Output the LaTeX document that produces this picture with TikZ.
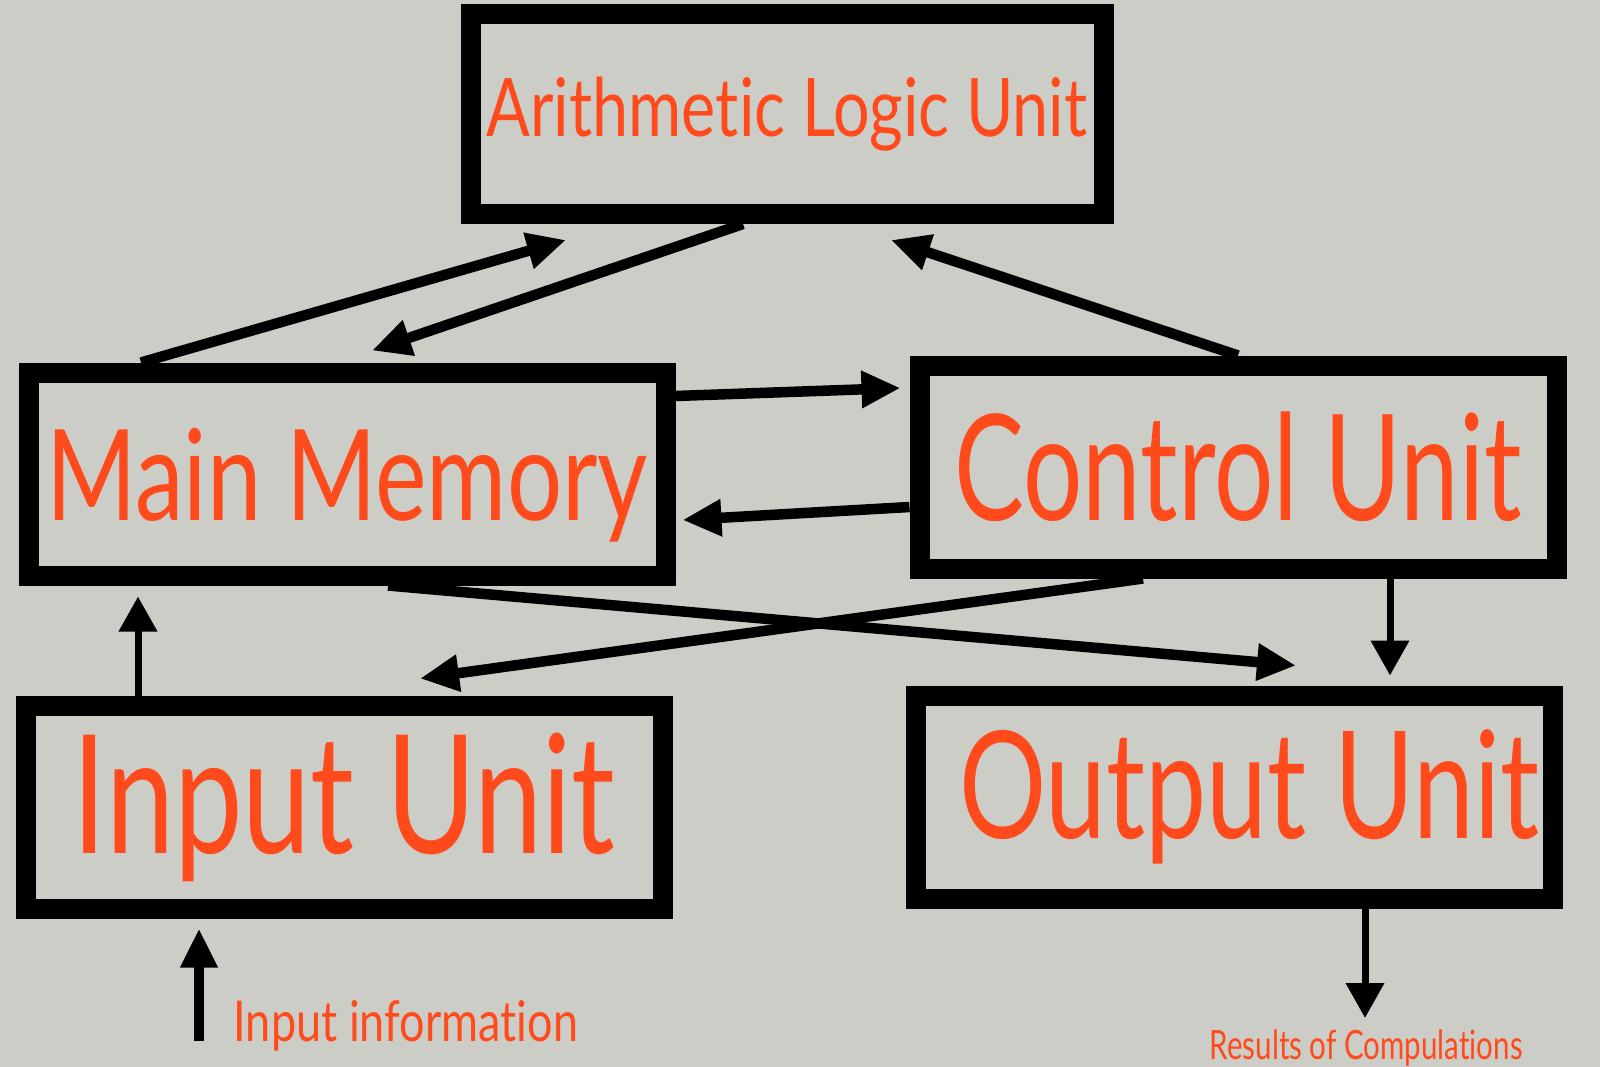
\documentclass[tikz,border=0pt]{standalone}
\usepackage{graphicx}
\usepackage{fontspec}
\setmainfont{Lato}[Ligatures=NoCommon]
\usepackage{tikz}
\usetikzlibrary{arrows.meta,calc}
\definecolor{wall}{RGB}{205,205,200}
\definecolor{ink}{RGB}{255,74,28}
\newcommand{\sqz}[2]{\scalebox{#1}[1]{#2}}

\begin{document}
\begin{tikzpicture}[x=0.1mm, y=-0.1mm,
  unit/.style={draw, line width=2mm, minimum width=63.7mm, minimum height=20.3mm, inner sep=0pt, text=ink},
  wire/.style={line width=1.05mm, -{Triangle[length=3.9mm,width=3.5mm]}},
  thin/.style={line width=0.7mm, -{Triangle[length=3.5mm,width=3.7mm]}},
  lbl/.style={inner sep=0pt, text=ink}]

% wall
\fill[wall] (0,0) rectangle (1600,1067);
\useasboundingbox (0,0) rectangle (1600,1067);

% Units
\node[unit, minimum width=63.3mm, minimum height=20mm, font=\fontsize{23pt}{23pt}\selectfont] (alu) at (787,114) {\sqz{0.8}{Arithmetic Logic Unit}};
\node[unit, text depth=0pt, font=\fontsize{36pt}{36pt}\selectfont] (mm) at (347,474) {\sqz{0.77}{Main Memory}};
\node[unit, font=\fontsize{42pt}{42pt}\selectfont] (cu) at (1238,467) {\sqz{0.71}{Control Unit}};
\node[unit, font=\fontsize{47pt}{47pt}\selectfont] (iu) at (344,807) {\sqz{0.74}{Input Unit}};
\node[unit, font=\fontsize{42.5pt}{42.5pt}\selectfont] (ou) at (1234,797) {\hspace*{3mm}\sqz{0.73}{Output Unit}};

% ALU links
\draw[wire] ($(mm.north)+(-206,0)$) -- ($(alu.south)+(-221,16)$);
\draw[wire] ($(alu.south)+(-44,0)$) -- ($(mm.north)+(25,-12)$);
\draw[wire] (cu.north) -- ($(alu.south)+(104,16)$);

% Memory <-> control
\draw[wire] ($(mm.east)+(0,-78)$) -- ($(cu.west)+(-9,-79)$);
\draw[wire] ($(cu.west)+(0,40)$) -- ($(mm.east)+(7,46)$);

% Crossing links
\draw[wire] ($(mm.south)+(41,0)$) -- ($(ou.north)+(62,-20)$);
\draw[wire] ($(cu.south)+(-95,0)$) -- ($(iu.north)+(76,-17)$);

% Vertical links
\draw[thin] ($(cu.south)+(152,0)$) -- ($(ou.north)+(156,-10)$);
\draw[thin] ($(iu.north)+(-206,0)$) -- ($(mm.south)+(-209,11)$);

% In and out
\coordinate (insrc) at (199,1041);
\coordinate (outdst) at (1365,1018);
\draw[wire] (insrc) -- ($(iu.south)+(-145,10)$);
\draw[thin] ($(ou.south)+(131,0)$) -- (outdst);

\node[lbl, anchor=base west, font=\fontsize{16pt}{16pt}\selectfont] (inlbl) at (233,1041) {\sqz{0.8}{Input information}};
\node[lbl, anchor=base west, font=\fontsize{11.5pt}{11.5pt}\selectfont] (reslbl) at (1209,1059) {\sqz{0.73}{Results of Compulations}};

\end{tikzpicture}
\end{document}
